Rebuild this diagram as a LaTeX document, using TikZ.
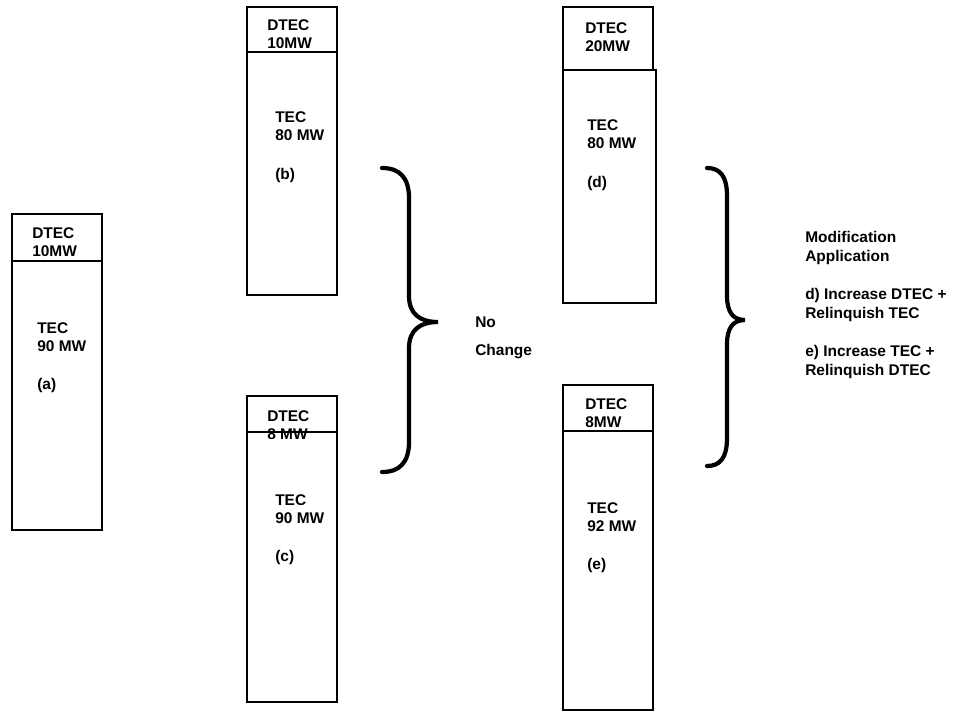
\documentclass[tikz,border=0pt]{standalone}
\usepackage{fontspec}
\setmainfont{Liberation Sans}
\begin{document}
\begin{tikzpicture}[
        % Единица = один пиксель исходной картинки, ось y вниз
        x=0.025cm, y=-0.025cm,
        % Стиль для рамок блоков
        box/.style={
            draw=black,
            line width=0.8pt
        },
        % Стиль для линии под DTEC
        divider/.style={
            draw=black,
            line width=1.1pt
        },
        % Стиль для фигурных скобок
        brace/.style={
            line width=3pt,
            line cap=round
        },
        % Стиль для текстовых меток (привязка по последней строке)
        label style/.style={
            black,
            font=\fontsize{11}{12.8}\selectfont\bfseries,
            align=left,
            anchor=base west,
            inner sep=0pt
        }
    ]
    \useasboundingbox (0,0) rectangle (954,711);

        % Блок (a)
        \draw[box] (12,214) rectangle (102,530);
        \draw[divider] (12,261) -- (102,261);
        \node[label style] (dtec a) at (32,256) {DTEC\\10MW};
        \node[label style] (tec a) at (37,389) {TEC\\90 MW\\[0.5cm](a)};

        % Блок (b)
        \draw[box] (247,7) rectangle (337,295);
        \draw[divider] (247,52) -- (337,52);
        \node[label style] (dtec b) at (267,48) {DTEC\\10MW};
        \node[label style] (tec b) at (275,179) {TEC\\80 MW\\[0.5cm](b)};

        % Блок (c)
        \draw[box] (247,396) rectangle (337,702);
        \draw[divider] (247,432) -- (337,432);
        \node[label style] (dtec c) at (267,439) {DTEC\\8 MW};
        \node[label style] (tec c) at (275,561) {TEC\\90 MW\\[0.5cm](c)};

        % Блок (d): верхняя часть чуть уже нижней
        \draw[box] (563,7) rectangle (653,70);
        \draw[box] (563,70) rectangle (656,303);
        \node[label style] (dtec d) at (585,51) {DTEC\\20MW};
        \node[label style] (tec d) at (587,187) {TEC\\80 MW\\[0.5cm](d)};

        % Блок (e)
        \draw[box] (563,385) rectangle (653,710);
        \draw[divider] (563,431) -- (653,431);
        \node[label style] (dtec e) at (585,427) {DTEC\\8MW};
        \node[label style] (tec e) at (587,569) {TEC\\92 MW\\[0.5cm](e)};

        % Левая скобка
        \draw[brace] (382,168) .. controls (400,168) and (409,178) .. (409,198)
            -- (409,296) .. controls (409,314) and (420,322) .. (438,322)
            .. controls (420,322) and (409,330) .. (409,348)
            -- (409,442) .. controls (409,462) and (400,472) .. (382,472);
        \node[label style] (no change) at (475,355) {No\\[0.25cm]Change};

        % Правая скобка
        \draw[brace] (707,168) .. controls (720,168) and (727,176) .. (727,196)
            -- (727,296) .. controls (727,312) and (733,320) .. (745,320)
            .. controls (733,320) and (727,328) .. (727,344)
            -- (727,438) .. controls (727,458) and (720,466) .. (707,466);
        \node[label style, font=\fontsize{11}{13.5}\selectfont\bfseries] (modification)
            at (805,375) {Modification\\Application\\[0.475cm]d) Increase DTEC +\\Relinquish TEC\\[0.475cm]e) Increase TEC +\\Relinquish DTEC};

    \end{tikzpicture}
\end{document}
